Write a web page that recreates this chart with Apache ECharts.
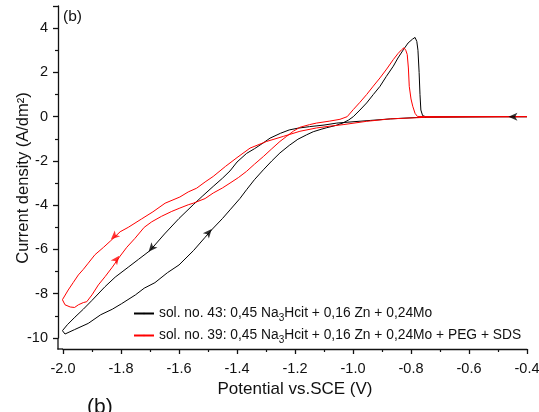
<!DOCTYPE html>
<html><head><meta charset="utf-8">
<script src="https://cdn.jsdelivr.net/npm/echarts@6/dist/echarts.min.js"></script>
<style>html,body{margin:0;padding:0;background:#fff}#c{width:539px;height:412px}</style>
</head><body><div id="c"></div>
<script>
// ---- data ----
const sol43Name = 'sol. no. 43: 0,45 Na3Hcit + 0,16 Zn + 0,24Mo';
const sol39Name = 'sol. no. 39: 0,45 Na3Hcit + 0,16 Zn + 0,24Mo + PEG + SDS';
const xTicks = [-2.0, -1.8, -1.6, -1.4, -1.2, -1.0, -0.8, -0.6, -0.4];
const yTicks = [-10, -8, -6, -4, -2, 0, 2, 4];

// sol. no. 43 (black): cathodic scan -0.4 -> -2.0, then anodic return
const sol43Cathodic = [[-0.4,0],[-0.5,0],[-0.6,-0.01],[-0.7,-0.02],[-0.77,-0.03],[-0.87,-0.1],[-0.94,-0.17],[-1.0,-0.23],[-1.056,-0.29],[-1.1,-0.38],[-1.15,-0.45],[-1.19,-0.52],[-1.22,-0.6],[-1.25,-0.75],[-1.286,-0.97],[-1.31,-1.19],[-1.34,-1.45],[-1.367,-1.66],[-1.40,-2.05],[-1.424,-2.45],[-1.45,-2.78],[-1.482,-3.15],[-1.52,-3.6],[-1.551,-3.98],[-1.6,-4.6],[-1.65,-5.3],[-1.70,-6.05],[-1.74,-6.45],[-1.775,-6.8],[-1.82,-7.25],[-1.855,-7.68],[-1.9,-8.3],[-1.93,-8.7],[-1.959,-9.06],[-1.985,-9.4],[-2.002,-9.67],[-1.993,-9.82]];
const sol43Anodic = [[-1.96,-9.62],[-1.913,-9.34],[-1.87,-8.95],[-1.83,-8.7],[-1.798,-8.45],[-1.75,-8.05],[-1.72,-7.75],[-1.683,-7.5],[-1.64,-7.05],[-1.6,-6.7],[-1.55,-6.05],[-1.51,-5.45],[-1.485,-5.08],[-1.45,-4.6],[-1.424,-4.21],[-1.39,-3.7],[-1.367,-3.3],[-1.34,-2.85],[-1.309,-2.4],[-1.28,-2.0],[-1.252,-1.64],[-1.22,-1.3],[-1.19,-1.02],[-1.16,-0.82],[-1.137,-0.68],[-1.11,-0.57],[-1.091,-0.5],[-1.06,-0.4],[-1.034,-0.28],[-1.015,-0.15],[-0.999,0.0],[-0.976,0.3],[-0.953,0.62],[-0.93,1.0],[-0.907,1.37],[-0.885,1.82],[-0.861,2.28],[-0.845,2.65],[-0.826,3.03],[-0.81,3.33],[-0.795,3.5],[-0.786,3.58],[-0.78,3.4],[-0.776,3.0],[-0.772,2.0],[-0.769,1.0],[-0.766,0.3],[-0.76,0.05],[-0.75,0.0],[-0.6,0],[-0.4,0]];

// sol. no. 39 (red)
const sol39Cathodic = [[-0.4,0],[-0.6,-0.01],[-0.75,-0.03],[-0.872,-0.1],[-0.953,-0.21],[-1.034,-0.36],[-1.08,-0.43],[-1.126,-0.51],[-1.183,-0.66],[-1.24,-0.89],[-1.298,-1.12],[-1.355,-1.42],[-1.4,-1.85],[-1.44,-2.25],[-1.482,-2.7],[-1.51,-2.95],[-1.539,-3.23],[-1.568,-3.4],[-1.597,-3.63],[-1.648,-3.91],[-1.69,-4.3],[-1.729,-4.62],[-1.775,-5.0],[-1.803,-5.2],[-1.835,-5.6],[-1.86,-5.9],[-1.89,-6.24],[-1.913,-6.62],[-1.93,-6.9],[-1.947,-7.15],[-1.965,-7.5],[-1.982,-7.83],[-2.002,-8.27]];
const sol39Anodic = [[-1.993,-8.5],[-1.975,-8.6],[-1.96,-8.62],[-1.947,-8.5],[-1.93,-8.4],[-1.918,-8.36],[-1.9,-8.05],[-1.878,-7.6],[-1.855,-7.23],[-1.83,-6.8],[-1.803,-6.3],[-1.78,-5.9],[-1.752,-5.5],[-1.72,-5.0],[-1.694,-4.75],[-1.66,-4.5],[-1.625,-4.28],[-1.597,-4.13],[-1.568,-3.98],[-1.551,-3.91],[-1.51,-3.7],[-1.482,-3.45],[-1.45,-3.22],[-1.424,-3.0],[-1.395,-2.75],[-1.367,-2.47],[-1.34,-2.15],[-1.309,-1.8],[-1.28,-1.45],[-1.252,-1.12],[-1.229,-0.89],[-1.205,-0.65],[-1.183,-0.48],[-1.15,-0.36],[-1.126,-0.29],[-1.08,-0.2],[-1.045,-0.12],[-1.02,0.0],[-0.999,0.32],[-0.976,0.65],[-0.953,1.0],[-0.93,1.38],[-0.907,1.75],[-0.884,2.15],[-0.861,2.58],[-0.845,2.85],[-0.832,3.03],[-0.824,3.11],[-0.818,3.0],[-0.813,2.81],[-0.809,2.2],[-0.806,1.37],[-0.8,0.8],[-0.794,0.47],[-0.786,0.15],[-0.778,0.01],[-0.7,0],[-0.4,0]];

// scan-direction arrows: [potential, current, direction angle in degrees]
const sol43Arrows = [[-0.464,0.0,90],[-1.705,-6.1,139],[-1.487,-5.08,-41]];
const sol39Arrows = [[-1.835,-5.55,133],[-1.806,-6.28,-37]];

// ---- chart ----
const FONT = '"Liberation Sans", Arial, sans-serif';
const INK = '#111';
const chart = echarts.init(document.getElementById('c'), null, {renderer: 'canvas'});
function arrowSeries(arr, color) {
  return {
    type: 'scatter', symbol: 'arrow', symbolSize: [6, 9], silent: true,
    itemStyle: {color: color}, z: 5, clip: false,
    data: arr.map(a => ({value: [a[0], a[1]], symbolRotate: a[2]}))
  };
}
function legendFmt(name) {
  const i = name.indexOf('Na3');
  return '{n|' + name.slice(0, i + 2) + '}{s|3}{n|' + name.slice(i + 3) + '}';
}
const option = {
  animation: false,
  backgroundColor: '#fff',
  grid: {left: 63, right: 12, top: 6, bottom: 74, containLabel: false, outerBoundsMode: 'none'},
  xAxis: {
    type: 'value', min: xTicks[0], max: xTicks[xTicks.length - 1], interval: 0.2,
    offset: 11,
    name: 'Potential vs.SCE (V)', nameLocation: 'middle', nameGap: 32, nameMoveOverlap: false,
    nameTextStyle: {fontSize: 17, color: INK, fontFamily: FONT},
    axisLine: {onZero: false, lineStyle: {color: INK, width: 1.3}},
    axisTick: {length: 5, lineStyle: {color: INK, width: 1.3}},
    minorTick: {show: true, splitNumber: 2, length: 3, lineStyle: {color: INK, width: 1.2}},
    axisLabel: {fontSize: 14.5, color: INK, fontFamily: FONT, margin: 12,
      formatter: v => v.toFixed(1)},
    splitLine: {show: false}
  },
  yAxis: {
    type: 'value', min: yTicks[0], max: 5, interval: 2,
    offset: 5,
    name: 'Current density (A/dm²)', nameLocation: 'middle', nameGap: 26, nameMoveOverlap: false,
    nameTextStyle: {fontSize: 16.5, color: INK, fontFamily: FONT, padding: [0, 12, 0, 0]},
    axisLine: {lineStyle: {color: INK, width: 1.3}},
    axisTick: {length: 5, lineStyle: {color: INK, width: 1.3}},
    minorTick: {show: true, splitNumber: 2, length: 3, lineStyle: {color: INK, width: 1.2}},
    axisLabel: {fontSize: 14.5, color: INK, fontFamily: FONT, margin: 10,
      formatter: v => (yTicks.indexOf(v) >= 0 ? String(v) : '')},
    splitLine: {show: false}
  },
  legend: {
    orient: 'vertical', left: 128, top: 299, itemWidth: 20, itemHeight: 2, itemGap: 3,
    data: [sol43Name, sol39Name],
    formatter: legendFmt,
    textStyle: {color: INK, fontFamily: FONT, fontSize: 13.8,
      rich: {
        n: {fontSize: 13.8, fontFamily: FONT, color: INK, lineHeight: 16},
        s: {fontSize: 10, fontFamily: FONT, color: INK, lineHeight: 10, padding: [9, 0, 0, 0]}
      }}
  },
  graphic: [
    {type: 'line', shape: {x1: 57.4, y1: 349, x2: 63, y2: 349}, style: {stroke: INK, lineWidth: 1.3}, silent: true},
    {type: 'line', shape: {x1: 58, y1: 338, x2: 58, y2: 349.6}, style: {stroke: INK, lineWidth: 1.3}, silent: true},
    {type: 'text', left: 63, top: 9, style: {text: '(b)', font: '15.5px ' + FONT, fill: INK}},
    {type: 'text', left: 87, top: 397, style: {text: '(b)', font: '21px ' + FONT, fill: INK}}
  ],
  series: [
    {name: sol43Name, type: 'line', data: sol43Cathodic.concat(sol43Anodic), symbol: 'none',
      lineStyle: {color: '#000', width: 1}, itemStyle: {color: '#000'}, clip: false, z: 3},
    {name: sol39Name, type: 'line', data: sol39Cathodic.concat(sol39Anodic), symbol: 'none',
      lineStyle: {color: '#ff0000', width: 1}, itemStyle: {color: '#ff0000'}, clip: false, z: 4},
    arrowSeries(sol43Arrows, '#000'),
    arrowSeries(sol39Arrows, '#ff0000')
  ]
};
chart.setOption(option);
</script></body></html>
